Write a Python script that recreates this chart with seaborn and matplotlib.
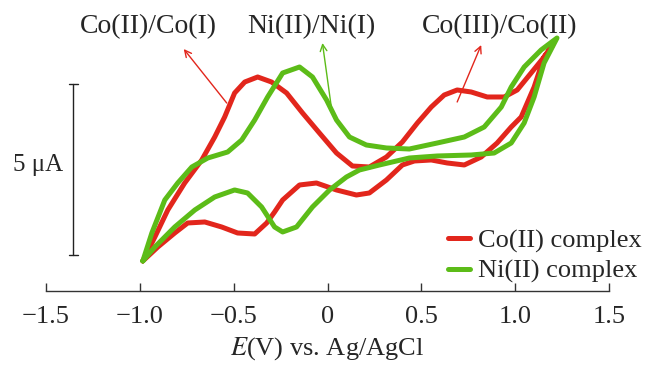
import numpy as np
import pandas as pd
import seaborn as sns
import matplotlib.pyplot as plt

# potentials (V vs Ag/AgCl) and currents (uA, arbitrary zero)
# each voltammogram = upper branch (left vertex -> right vertex) + lower branch (same direction)
co_up_E = [-0.984, -0.920, -0.851, -0.761, -0.670, -0.601, -0.548, -0.495, -0.441, -0.372,
           -0.298, -0.218, -0.133, -0.043, 0.048, 0.133, 0.223, 0.314, 0.399, 0.479,
           0.553, 0.622, 0.691, 0.766, 0.851, 0.941, 1.011, 1.085, 1.154, 1.197]
co_up_I = [-0.175, 0.526, 1.316, 2.105, 2.778, 3.450, 4.035, 4.737, 5.058, 5.205,
           5.058, 4.737, 4.152, 3.567, 2.982, 2.602, 2.573, 2.865, 3.304, 3.860,
           4.327, 4.678, 4.825, 4.766, 4.620, 4.620, 4.825, 5.322, 5.789, 6.111]
co_dn_E = [-0.984, -0.904, -0.814, -0.745, -0.654, -0.564, -0.479, -0.388, -0.324, -0.282,
           -0.239, -0.149, -0.059, 0.048, 0.154, 0.223, 0.314, 0.399, 0.463, 0.553,
           0.638, 0.729, 0.819, 0.904, 0.979, 1.032, 1.101, 1.154, 1.197]
co_dn_I = [-0.175, 0.234, 0.643, 0.936, 0.965, 0.819, 0.643, 0.614, 0.936, 1.257,
           1.608, 2.047, 2.105, 1.901, 1.754, 1.813, 2.193, 2.632, 2.749, 2.778,
           2.690, 2.632, 2.865, 3.275, 3.743, 4.035, 4.912, 5.789, 6.111]

ni_up_E = [-0.984, -0.936, -0.867, -0.798, -0.723, -0.638, -0.532, -0.457, -0.388, -0.319,
           -0.239, -0.149, -0.080, -0.005, 0.048, 0.117, 0.207, 0.314, 0.436, 0.585,
           0.729, 0.835, 0.926, 0.979, 1.048, 1.138, 1.223]
ni_up_I = [-0.175, 0.643, 1.608, 2.105, 2.573, 2.836, 3.012, 3.363, 3.947, 4.620,
           5.322, 5.497, 5.205, 4.532, 3.947, 3.450, 3.216, 3.129, 3.099, 3.275,
           3.450, 3.743, 4.327, 4.912, 5.497, 5.994, 6.345]
ni_dn_E = [-0.984, -0.920, -0.814, -0.707, -0.601, -0.495, -0.426, -0.351, -0.282, -0.239,
           -0.165, -0.080, 0.011, 0.101, 0.170, 0.277, 0.436, 0.585, 0.766, 0.888,
           0.979, 1.048, 1.101, 1.154, 1.223]
ni_dn_I = [-0.175, 0.234, 0.819, 1.316, 1.696, 1.901, 1.813, 1.404, 0.819, 0.673,
           0.819, 1.404, 1.901, 2.281, 2.485, 2.632, 2.836, 2.895, 2.924, 2.982,
           3.275, 3.860, 4.620, 5.614, 6.345]

names = ["Co(II) complex", "Ni(II) complex"]
colors = {"Co(II) complex": "#e2261c", "Ni(II) complex": "#5cbc18"}

xticks = [-1.5, -1.0, -0.5, 0, 0.5, 1.0, 1.5]
xticklabels = ["\u22121.5", "\u22121.0", "\u22120.5", "0", "0.5", "1.0", "1.5"]

# closed loops
rows = []
for name, (uE, uI, dE, dI) in zip(names, [(co_up_E, co_up_I, co_dn_E, co_dn_I),
                                          (ni_up_E, ni_up_I, ni_dn_E, ni_dn_I)]):
    E = uE + dE[::-1]
    I = uI + dI[::-1]
    for k, (e, i) in enumerate(zip(E, I)):
        rows.append({"E": e, "I": i, "complex": name, "step": k})
df = pd.DataFrame(rows)

sns.set_theme(style="white")
plt.rcParams["font.family"] = ["Liberation Serif", "DejaVu Serif"]
plt.rcParams["mathtext.fontset"] = "stix"

fig = plt.figure(figsize=(6.46, 3.73), dpi=100)
ax = fig.add_axes([46 / 646, 1 - 291 / 373, (609 - 46) / 646, 291 / 373])

sns.lineplot(data=df, x="E", y="I", hue="complex", palette=colors, sort=False,
             estimator=None, units="complex", lw=3.6, ax=ax, legend=True)
for ln in ax.lines:
    ln.set_solid_joinstyle("round")
    ln.set_solid_capstyle("round")
    ln.set_clip_on(False)

ax.set_xlim(-1.5, 1.5)
ax.set_ylim(-1.053, 7.456)
ax.set_xticks(xticks)
ax.set_xticklabels(xticklabels)
ax.set_yticks([])
ax.set_ylabel("")
ax.tick_params(axis="x", direction="in", length=6, width=1, color="#333333",
               labelsize=19, pad=11, bottom=True)
for s in ["left", "top", "right"]:
    ax.spines[s].set_visible(False)
ax.spines["bottom"].set_color("#333333")
ax.spines["bottom"].set_linewidth(1)
ax.set_xlabel("$E$(V) vs. Ag/AgCl", fontsize=19, labelpad=5)

# scale bar: 5 uA
scale_x = -1.356
scale_len = 5
ax.plot([scale_x, scale_x], [0, scale_len], color="#222222", lw=1)
for yy in [0, scale_len]:
    ax.plot([scale_x - 0.024, scale_x + 0.024], [yy, yy], color="#222222", lw=1)
ax.text(-1.41, 2.63, "5 \u03bcA", fontsize=18, ha="right", va="center")

# peak labels
labels = [("Co(II)/Co(I)", -0.957, colors["Co(II) complex"], (-0.537, 4.444), (-0.766, 6.023)),
          ("Ni(II)/Ni(I)", -0.085, colors["Ni(II) complex"], (0.021, 4.298), (-0.027, 6.199)),
          ("Co(III)/Co(II)", 0.915, colors["Co(II) complex"], (0.691, 4.474), (0.819, 6.14))]
for txt, tx, c, tail, head in labels:
    ax.text(tx, 6.667, txt, fontsize=20, ha="center", va="center")
    ax.annotate("", xy=head, xytext=tail,
                arrowprops=dict(arrowstyle="->", color=c, lw=1, shrinkA=0, shrinkB=0))

leg = ax.legend(loc="lower right", bbox_to_anchor=(0.994, 0.24),
                bbox_transform=fig.transFigure, frameon=False, fontsize=19,
                handlelength=0.85, handletextpad=0.3, labelspacing=0.25,
                borderpad=0, borderaxespad=0)
for h in leg.get_lines():
    h.set_linewidth(3.6)

fig.savefig("out.png", dpi=100)
